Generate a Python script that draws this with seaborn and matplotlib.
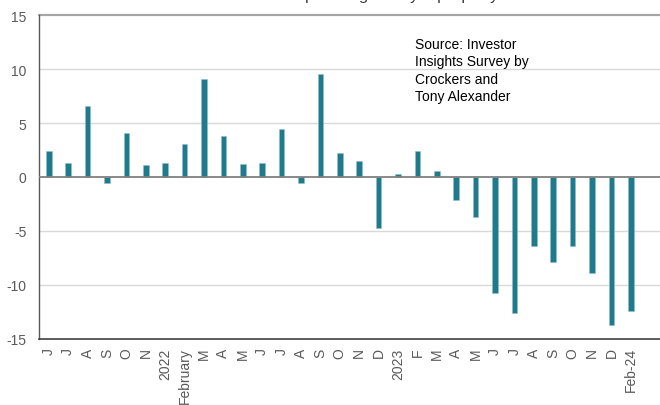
import matplotlib
matplotlib.use("Agg")
import matplotlib.pyplot as plt
import seaborn as sns
import numpy as np
import pandas as pd

labels = ["J", "J", "A", "S", "O", "N", "2022", "February", "M", "A", "M", "J",
          "J", "A", "S", "O", "N", "D", "2023", "F", "M", "A", "M", "J",
          "J", "A", "S", "O", "N", "D", "Feb-24"]
values = [2.4, 1.3, 6.6, -0.6, 4.1, 1.1, 1.3, 3.1, 9.1, 3.8, 1.2, 1.3,
          4.4, -0.6, 9.5, 2.2, 1.5, -4.7, 0.3, 2.4, 0.6, -2.1, -3.7, -10.7,
          -12.6, -6.4, -7.9, -6.4, -8.9, -13.7, -12.4]
yticks = [15, 10, 5, 0, -5, -10, -15]
title = "Net % planning to buy a property"
source = "Source: Investor\nInsights Survey by\nCrockers and\nTony Alexander"

sns.set_theme(style="white")
plt.rcParams['font.family'] = ['Liberation Sans', 'DejaVu Sans']

fig = plt.figure(figsize=(6.6, 4.06), dpi=100)
ax = fig.add_axes([39/660, 1-340/406, 1-39/660, (340-16)/406])

df = pd.DataFrame({"pos": np.arange(len(values)), "val": values})
sns.barplot(data=df, x="pos", y="val", color="#1F7A8C", saturation=1,
            width=0.29, ax=ax, edgecolor="#8fbfc9", linewidth=0.4)

ax.set_xlim(-0.5, 31.5)
ax.set_ylim(-15, 15)
ax.set_yticks(yticks)
ax.set_yticklabels([str(t) for t in yticks], color="#595959", fontsize=10)
ax.set_xticks(np.arange(len(labels)))
ax.set_xticklabels(labels, rotation=90, color="#595959", fontsize=10)
ax.tick_params(axis="y", length=0, pad=9)
ax.tick_params(axis="x", length=0, pad=6)
ax.set_xlabel("")
ax.set_ylabel("")

for t in [10, 5, -5, -10]:
    ax.axhline(t, color="#d9d9d9", lw=1, zorder=0)
ax.axhline(15, color="#a6a6a6", lw=1.6, zorder=0, clip_on=False)
ax.axhline(0, color="#808080", lw=1.3, zorder=3)

for s in ["top", "right"]:
    ax.spines[s].set_visible(False)
ax.spines["left"].set_color("#595959")
ax.spines["left"].set_linewidth(1)
ax.spines["bottom"].set_color("#404040")
ax.spines["bottom"].set_linewidth(1.2)

ax.text(415/660, 1-38/406, source, transform=fig.transFigure, fontsize=10,
        color="black", va="top", ha="left", linespacing=1.3)
fig.text(255/660, 1.0, title, fontsize=12, color="#404040", va="baseline", ha="left")

fig.savefig("out.png", dpi=100)
